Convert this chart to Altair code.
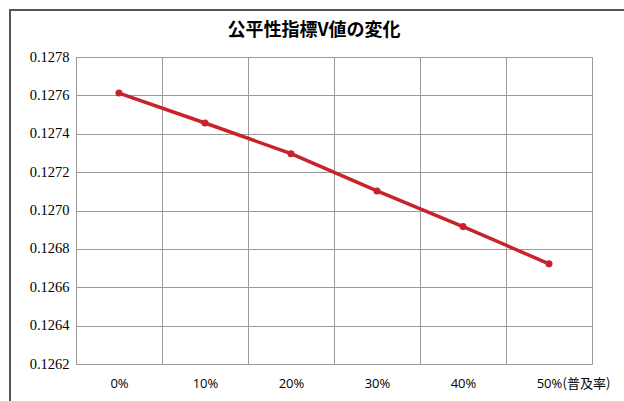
import altair as alt
import pandas as pd

categories = ["0%", "10%", "20%", "30%", "40%", "50%"]
v_values = [0.127612, 0.127456, 0.127296, 0.127102, 0.126916, 0.126722]
y_ticks = [0.1262, 0.1264, 0.1266, 0.1268, 0.1270, 0.1272, 0.1274, 0.1276, 0.1278]

df = pd.DataFrame({"rate": categories, "v": v_values})

RED = "#c8232a"
GRID = "#9a9a9a"

x_enc = alt.X(
    "rate:N",
    sort=categories,
    scale=alt.Scale(paddingInner=0, paddingOuter=0),
    axis=alt.Axis(
        title="(普及率)",
        titleX=486,
        titleY=19,
        titleAlign="left",
        titleBaseline="middle",
        titleFont="Noto Sans CJK JP",
        titleFontSize=13,
        titleFontWeight="normal",
        titleColor="#000000",
        labelAngle=0,
        labelFont="Open Sans",
        labelFontSize=13,
        labelColor="#000000",
        labelPadding=19,
        labelBaseline="middle",
        ticks=False,
        domain=False,
        grid=True,
        gridColor=GRID,
        gridWidth=1,
        tickBand="extent",
    ),
)
y_enc = alt.Y(
    "v:Q",
    scale=alt.Scale(domain=[0.1262, 0.1278], nice=False, zero=False),
    axis=alt.Axis(
        title=None,
        values=y_ticks,
        format=".4f",
        labelFont="Liberation Serif",
        labelFontSize=14.5,
        labelColor="#000000",
        labelPadding=7,
        labelOverlap=False,
        labelFlush=False,
        ticks=False,
        domain=False,
        grid=True,
        gridColor=GRID,
        gridWidth=1,
    ),
)

base = alt.Chart(df).encode(x=x_enc, y=y_enc)
line = base.mark_line(color=RED, strokeWidth=3.5)
pts = base.mark_point(filled=True, color=RED, size=50, opacity=1)
frame = alt.Chart(df).mark_rect(
    fill=None, stroke="#555555", strokeWidth=2, clip=False
).encode(
    x=alt.value(-66), x2=alt.value(700), y=alt.value(-47), y2=alt.value(500)
)

chart = (
    alt.layer(line, pts, frame)
    .properties(
        width=516,
        height=307,
        autosize=alt.AutoSizeParams(type="none"),
        padding={"left": 76, "top": 57, "right": 32, "bottom": 37},
        title=alt.TitleParams(
            "公平性指標V値の変化",
            font="Noto Sans CJK JP",
            fontSize=18,
            fontWeight="bold",
            color="#000000",
            anchor="middle",
            frame="group",
            dx=-20,
            offset=-31,
        ),
    )
    .configure_view(stroke=GRID, strokeWidth=1)
    .configure(background="#ffffff")
)

chart.save("out.html", embed_options={"renderer": "svg", "actions": False})
